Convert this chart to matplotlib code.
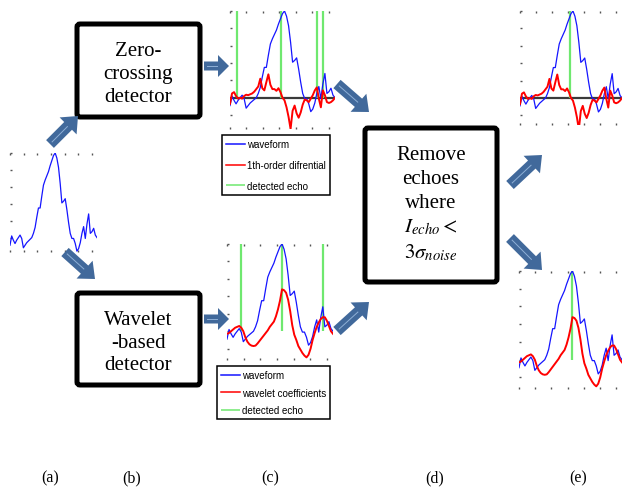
import numpy as np
import matplotlib
matplotlib.use("Agg")
import matplotlib.pyplot as plt
from matplotlib import font_manager
from matplotlib.patches import FancyBboxPatch, FancyArrow

W, H = 622, 489          # output size in pixels
plt.rcParams["mathtext.fontset"] = "stix"

# echo waveform and the two detector outputs, all on one sample grid
waveform = [-0.09, 0.02, -0.03, -0.07, -0.03, 0.0, 0.03, -0.01, -0.12, -0.09,
            -0.06, -0.04, -0.02, 0.0, 0.05, 0.12, 0.24, 0.35, 0.35, 0.49,
            0.62, 0.68, 0.73, 0.78, 0.85, 0.91, 0.97, 1.0, 0.94, 0.83,
            0.64, 0.41, 0.43, 0.46, 0.33, 0.18, 0.05, -0.01, -0.01, -0.07,
            -0.16, -0.13, -0.06, 0.05, 0.13, -0.01, 0.16, 0.28, 0.05, 0.07,
            0.11, 0.03, 0.0]
zc_diff = [-0.07, 0.05, 0.065, 0.02, -0.01, 0.0, -0.01, 0.02, 0.035, 0.03,
           0.04, 0.05, 0.07, 0.10, 0.13, 0.22, 0.11, 0.085, 0.18, 0.27,
           0.15, 0.10, 0.10, 0.08, 0.11, 0.065, 0.0, -0.03, -0.11, -0.22,
           -0.36, -0.15, -0.09, -0.18, -0.23, -0.17, -0.08, -0.02, -0.03, -0.05,
           -0.01, 0.03, 0.085, 0.12, -0.01, -0.11, 0.085, 0.03, -0.05, -0.06,
           -0.05, -0.03, 0.0]
wavelet_coef = [-0.03, -0.02, 0.0, 0.02, 0.04, 0.05, 0.06, 0.04, 0.0, -0.07,
                -0.12, -0.15, -0.165, -0.17, -0.165, -0.14, -0.11, -0.08, -0.05, -0.02,
                0.01, 0.05, 0.08, 0.11, 0.17, 0.25, 0.35, 0.48, 0.47, 0.44,
                0.36, 0.23, 0.07, -0.04, -0.10, -0.17, -0.21, -0.25, -0.28, -0.30,
                -0.27, -0.20, -0.10, -0.02, 0.05, 0.10, 0.14, 0.16, 0.16, 0.12,
                0.06, 0.0, -0.03]
zc_echoes = [3.6, 25.5, 43.0, 46.0]
wavelet_echoes = [6.9, 27.0, 47.2]
zc_kept = [25.5]
wavelet_kept = [27.0]
panel_labels = ["(a)", "(b)", "(c)", "(d)", "(e)"]
label_x = [50, 132, 270, 435, 578]

BLUE, RED, GREEN = "#1515ff", "#ff0000", "#6fe86f"
ARROW, STRIPE = "#41699b", "#8fb0d6"
n = np.arange(len(waveform))

# legend text in the original is a narrow sans; use one if it is there
names = {f.name for f in font_manager.fontManager.ttflist}
narrow = "Liberation Sans Narrow" in names
leg_font = {"family": "Liberation Sans Narrow" if narrow else "Liberation Sans",
            "size": 8 if narrow else 7}

fig = plt.figure(figsize=(W / 100, H / 100), dpi=100)


def px_axes(x0, x1, y0, y1):
    return fig.add_axes([x0 / W, 1 - y1 / H, (x1 - x0) / W, (y1 - y0) / H])


def small_plot(ax, ylo):
    ax.set_xlim(0, len(waveform) - 1)
    ax.set_ylim(ylo, 1.0)
    for s in ax.spines.values():
        s.set_visible(False)
    ax.patch.set_visible(False)
    ax.set_xticks(np.linspace(0, 49, 7))
    yt = np.arange(-0.2, 1.01, 0.2)
    ax.set_yticks(yt[yt > ylo])
    ax.tick_params(direction="in", length=1.2, width=1, color="#555555",
                   top=True, bottom=True, left=True, right=False,
                   labelleft=False, labelbottom=False)


def echo_plot(ax, second, echoes, ylo, zero_line):
    small_plot(ax, ylo)
    if zero_line:
        ax.axhline(0, color="#3a3a3a", lw=1.6, zorder=1)
    g = ax.vlines(echoes, 0, 1.0, color=GREEN, lw=1.6, zorder=2)
    b, = ax.plot(n, waveform, color=BLUE, lw=0.9, zorder=3)
    r, = ax.plot(n, second, color=RED, lw=1.4, zorder=4)
    return b, r, g


# (a) raw waveform
ax_a = px_axes(10, 97, 154, 253)
small_plot(ax_a, -0.17)
ax_a.plot(n, waveform, color=BLUE, lw=0.9)

# (c) detector outputs
ax_ct = px_axes(230, 335, 12, 130)
h1 = echo_plot(ax_ct, zc_diff, zc_echoes, -0.36, True)
ax_cb = px_axes(227, 333, 245, 361)
h2 = echo_plot(ax_cb, wavelet_coef, wavelet_echoes, -0.33, False)

# (e) after removing weak echoes
ax_et = px_axes(520, 622, 12, 126)
echo_plot(ax_et, zc_diff, zc_kept, -0.31, True)
ax_eb = px_axes(519, 622, 272, 390)
echo_plot(ax_eb, wavelet_coef, wavelet_kept, -0.33, False)

for ax, hs, labs, x0, y0, sp in [
        (ax_ct, h1, ["waveform", "1th-order difrential", "detected echo"], 222, 136, 1.1),
        (ax_cb, h2, ["waveform", "wavelet coefficients", "detected echo"], 217, 367, 0.75)]:
    leg = ax.legend(hs, labs, loc="upper left", bbox_to_anchor=(x0 / W, 1 - y0 / H),
                    bbox_transform=fig.transFigure, fancybox=False, framealpha=1,
                    edgecolor="black", prop=leg_font, handlelength=1.9,
                    handletextpad=0.2, borderpad=0.45, labelspacing=sp,
                    borderaxespad=0)
    leg.get_frame().set_linewidth(1.1)
    for line in leg.get_lines():
        line.set_linewidth(1.1)

# overlay for boxes, arrows and text
ov = fig.add_axes([0, 0, 1, 1], zorder=10)
ov.set_xlim(0, W)
ov.set_ylim(H, 0)
ov.axis("off")
ov.patch.set_visible(False)

box_font = {"family": "Liberation Serif", "size": 15}
for (x0, x1, y0, y1), txt, dy, ls in [
        ((77, 200, 25, 118), "Zero-\ncrossing\ndetector", 3, 1.27),
        ((77, 200, 294, 386), "Wavelet\n-based\ndetector", 3, 1.27),
        ((365, 497, 129, 283), "Remove\nechoes\nwhere\n$I_{echo}<$\n$3\\sigma_{noise}$", -1, 1.34)]:
    ov.add_patch(FancyBboxPatch((x0, y0), x1 - x0, y1 - y0,
                                boxstyle="round,pad=0,rounding_size=3",
                                fc="white", ec="black", lw=3.6))
    ov.text((x0 + x1) / 2, (y0 + y1) / 2 + dy, txt, ha="center", va="center",
            linespacing=ls, fontdict=box_font)


def block_arrow(x0, y0, x1, y1, width=11, head_w=24, head_l=14):
    ov.add_patch(FancyArrow(x0, y0, x1 - x0, y1 - y0, width=width,
                            head_width=head_w, head_length=head_l,
                            length_includes_head=True, color=ARROW, lw=0))
    d = np.hypot(x1 - x0, y1 - y0)
    ux, uy = (x1 - x0) / d, (y1 - y0) / d
    ov.plot([x0 + 3 * ux, x1 - (head_l + 1) * ux], [y0 + 3 * uy, y1 - (head_l + 1) * uy],
            color=STRIPE, lw=0.7)


block_arrow(50, 145, 78, 117)
block_arrow(65, 253, 95, 280)
block_arrow(204, 67, 229, 67, width=9, head_w=22, head_l=11)
block_arrow(204, 320, 229, 320, width=9, head_w=22, head_l=11)
block_arrow(337, 85, 369, 113)
block_arrow(337, 332, 369, 303)
block_arrow(510, 186, 542, 156)
block_arrow(510, 239, 542, 271)

for x, lab in zip(label_x, panel_labels):
    ov.text(x, 478, lab, ha="center", va="center",
            fontdict={"family": "Liberation Serif", "size": 11.5})

fig.savefig("out.png", dpi=100)
